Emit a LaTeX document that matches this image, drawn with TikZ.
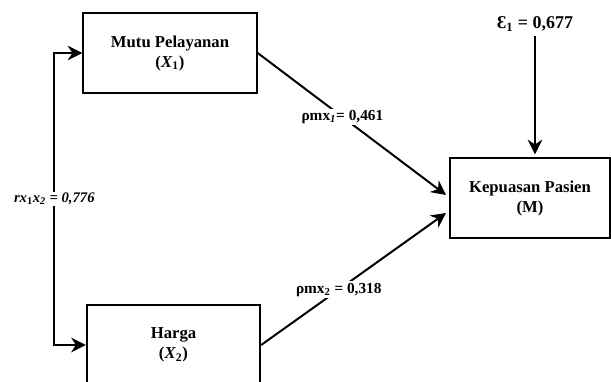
\documentclass[tikz,border=0pt]{standalone}
\usepackage{fontspec}
\setmainfont{Liberation Serif}
\usetikzlibrary{arrows.meta, positioning, calc}

\begin{document}
\begin{tikzpicture}[x=0.75pt, y=-0.75pt,
  var/.style={rectangle, draw, line width=1.5pt, align=center,
              minimum width=130pt, minimum height=60pt,
              font=\fontsize{12.5}{15}\selectfont\bfseries},
  path/.style={line width=1.5pt, -{Stealth[length=11pt, width=11pt]}},
  coef/.style={fill=white, inner sep=1pt,
               font=\fontsize{11.5}{13}\selectfont\bfseries}
]
  \useasboundingbox (0,0) rectangle (611,382);

  % Variables of the path model
  \node[var] (x1) at (170, 53)  {Mutu Pelayanan\\(\textit{X}\textsubscript{1})};
  \node[var] (x2) at (173.5, 345) {Harga\\(\textit{X}\textsubscript{2})};
  \node[var, minimum width=120pt] (m) at (530, 198)
    {Kepuasan Pasien\\(M)};

  % Residual
  \node[font=\fontsize{13.5}{15}\selectfont\bfseries] (eps) at (535, 24)
    {Ɛ\textsubscript{1} = 0,677};
  \draw[path] (eps.south) -- ([yshift=2pt]eps.south |- m.north);

  % Direct effects
  \draw[path] (x1.east) -- node[coef, pos=0.45]
    {ρmx\textsubscript{\textit{1}}= 0,461} ($(m.west)+(-3,-3)$);
  \draw[path] (x2.east) -- node[coef, pos=0.42]
    {ρmx\textsubscript{2} = 0,318} ($(m.west)+(-3,15)$);

  % Correlation X1 -- X2
  \draw[line width=1.5pt, {Stealth[length=11pt, width=11pt]}-{Stealth[length=11pt, width=11pt]}]
    (x1.west) -- ++(-28,0) |- node[coef, pos=0.25, font=\fontsize{11}{12}\selectfont\bfseries\itshape]
    {rx\textsubscript{\upshape 1}x\textsubscript{2} = 0,776} (x2.west);
\end{tikzpicture}
\end{document}
